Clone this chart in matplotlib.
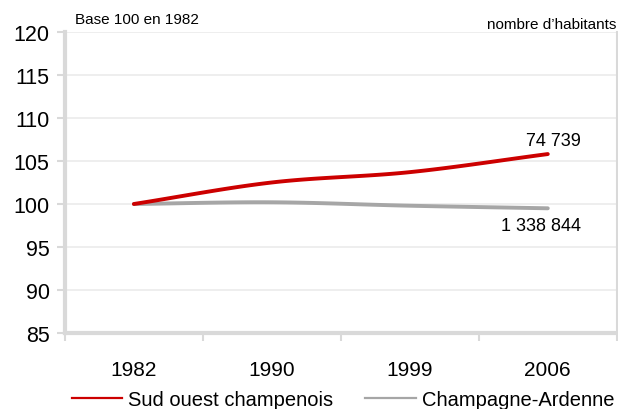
import numpy as np
import matplotlib
matplotlib.use("Agg")
import matplotlib.pyplot as plt

plt.rcParams['font.family'] = ['Liberation Sans', 'DejaVu Sans']

years = ['1982', '1990', '1999', '2006']
sud_ouest = [100.0, 102.5, 103.7, 105.8]
champagne = [100.0, 100.2, 99.8, 99.5]
last_labels = ['74 739', '1 338 844']
y_ticks = [85, 90, 95, 100, 105, 110, 115, 120]


def smooth(y, n=30):
    # catmull-rom style smoothing, like the excel "smoothed line" option
    y = np.asarray(y, dtype=float)
    p = np.concatenate([[2 * y[0] - y[1]], y, [2 * y[-1] - y[-2]]])
    xs, ys = [], []
    for i in range(len(y) - 1):
        t = np.linspace(0, 1, n, endpoint=(i == len(y) - 2))
        p0, p1, p2, p3 = p[i], p[i + 1], p[i + 2], p[i + 3]
        v = 0.5 * ((2 * p1) + (-p0 + p2) * t + (2 * p0 - 5 * p1 + 4 * p2 - p3) * t ** 2
                   + (-p0 + 3 * p1 - 3 * p2 + p3) * t ** 3)
        xs.append(i + t)
        ys.append(v)
    return np.concatenate(xs), np.concatenate(ys)


fig = plt.figure(figsize=(6.18, 4.10), dpi=100)
ax = fig.add_axes([0.105, 0.185, 0.893, 0.735])

x = np.arange(len(years))
xs, ys = smooth(sud_ouest)
ax.plot(xs, ys, color='#cc0000', lw=2.8, solid_capstyle='round', zorder=3)
xs, ys = smooth(champagne)
ax.plot(xs, ys, color='#a6a6a6', lw=2.8, solid_capstyle='round', zorder=2)
# legend handles are drawn thinner than the series
ax.plot([], [], color='#cc0000', lw=1.6, label='Sud ouest champenois')
ax.plot([], [], color='#a6a6a6', lw=1.6, label='Champagne-Ardenne')

ax.annotate(last_labels[0], (x[-1], sud_ouest[-1]), xytext=(4, 4), textcoords='offset points',
            ha='center', va='bottom', fontsize=13)
ax.annotate(last_labels[1], (x[-1], champagne[-1]), xytext=(-5, -6), textcoords='offset points',
            ha='center', va='top', fontsize=13)

ax.set_xlim(-0.5, len(years) - 0.5)
ax.set_ylim(85, 120)
ax.set_yticks(y_ticks)
ax.set_xticks(x)
ax.set_xticklabels(years)
ax.set_xticks(np.arange(-0.5, len(years)), minor=True)
ax.tick_params(axis='x', which='major', length=0, pad=19, labelsize=15)
ax.tick_params(axis='x', which='minor', length=6, width=1.5, color='#d9d9d9', direction='out')
ax.tick_params(axis='y', length=6, width=1.5, color='#d9d9d9', labelsize=15.5, pad=5)
ax.grid(axis='y', color='#ebebeb', lw=1.2)
ax.set_axisbelow(True)

for s in ['left', 'bottom']:
    ax.spines[s].set_color('#d9d9d9')
    ax.spines[s].set_linewidth(3)
ax.spines['right'].set_color('#d9d9d9')
ax.spines['right'].set_linewidth(1.5)
ax.spines['top'].set_visible(False)

fig.text(0.122, 0.951, 'Base 100 en 1982', fontsize=11, va='center', ha='left')
fig.text(0.997, 0.939, 'nombre d\u2019habitants', fontsize=11, va='center', ha='right')

fig.legend(loc='center', bbox_to_anchor=(0.555, 0.022), ncol=2, frameon=False,
           fontsize=14.5, handlelength=2.5, columnspacing=1.6, handletextpad=0.3)

fig.savefig('out.png', dpi=100)
